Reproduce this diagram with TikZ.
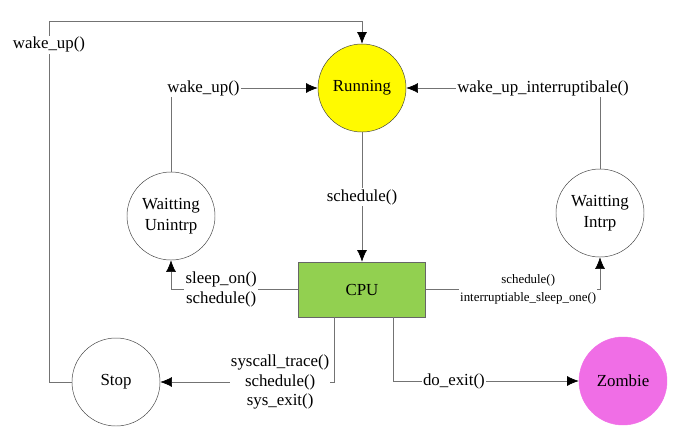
\documentclass[tikz,border=0pt]{standalone}
\usepackage{fontspec}
\setmainfont{Liberation Serif}
\usetikzlibrary{arrows.meta,calc,positioning}

\definecolor{runyellow}{RGB}{255,250,0}
\definecolor{cpugreen}{RGB}{146,208,80}
\definecolor{zompink}{RGB}{240,110,230}
\definecolor{linegray}{RGB}{115,115,115}

\tikzset{
  state/.style={circle,draw=black!75,line width=0.4pt,minimum size=2.64cm,inner sep=0pt,align=center,font=\fontsize{14.4}{18}\selectfont},
  cpubox/.style={rectangle,draw=black!60,line width=0.4pt,fill=cpugreen,minimum width=3.81cm,minimum height=1.65cm,font=\fontsize{14.4}{18}\selectfont},
  trans/.style={draw=linegray,line width=0.6pt,-{Latex[length=10pt,width=8.5pt,black]}},
  lbl/.style={fill=white,inner sep=1pt,align=center,font=\fontsize{14.4}{17}\selectfont},
  smalllbl/.style={lbl,font=\fontsize{11}{16}\selectfont}
}

\begin{document}
\begin{tikzpicture}[x=0.03cm,y=-0.03cm]
      \useasboundingbox (0,0) rectangle (690,437);

      \coordinate (tl) at (49,21);

      \node[state,fill=runyellow] (run) at (362,88) {Running};
      \node[state] (wu) at (171,216) {Waitting\\Unintrp};
      \node[state] (wi) at (600,213) {Waitting\\Intrp};
      \node[cpubox] (cpu) at (362,289.5) {CPU};
      \node[state] (stop) at (116,382) {Stop};
      \node[state,fill=zompink,draw=zompink] (zom) at (623,381) {Zombie};

      \draw[trans] (stop.west) -| node[lbl,pos=0.967] {wake\_up()} (tl) -| (run.north);
      \draw[trans] (wu.north) |- node[lbl,pos=0.5,anchor=west,xshift=-4.4pt] {wake\_up()} (run.west);
      \draw[trans] (wi.north) |- node[lbl,pos=0.647] {wake\_up\_interruptibale()} (run.east);
      \draw[trans] (run) -- node[lbl] {schedule()} (cpu);

      \draw[trans] (cpu.west) -| node[lbl,pos=0.303] {sleep\_on()\\schedule()} (wu.south);
      \draw[trans] (cpu.east) -| node[smalllbl,pos=0.294] {schedule()\\interruptiable\_sleep\_one()} (wi.south);
      \draw[trans] ($(cpu.south)+(-28,0)$) |- node[lbl,pos=0.655] {syscall\_trace()\\schedule()\\sys\_exit()} (stop.east);
      \draw[trans] ($(cpu.south)+(31,0)$) |- node[lbl,pos=0.664] {do\_exit()} (zom.west);
\end{tikzpicture}
\end{document}
